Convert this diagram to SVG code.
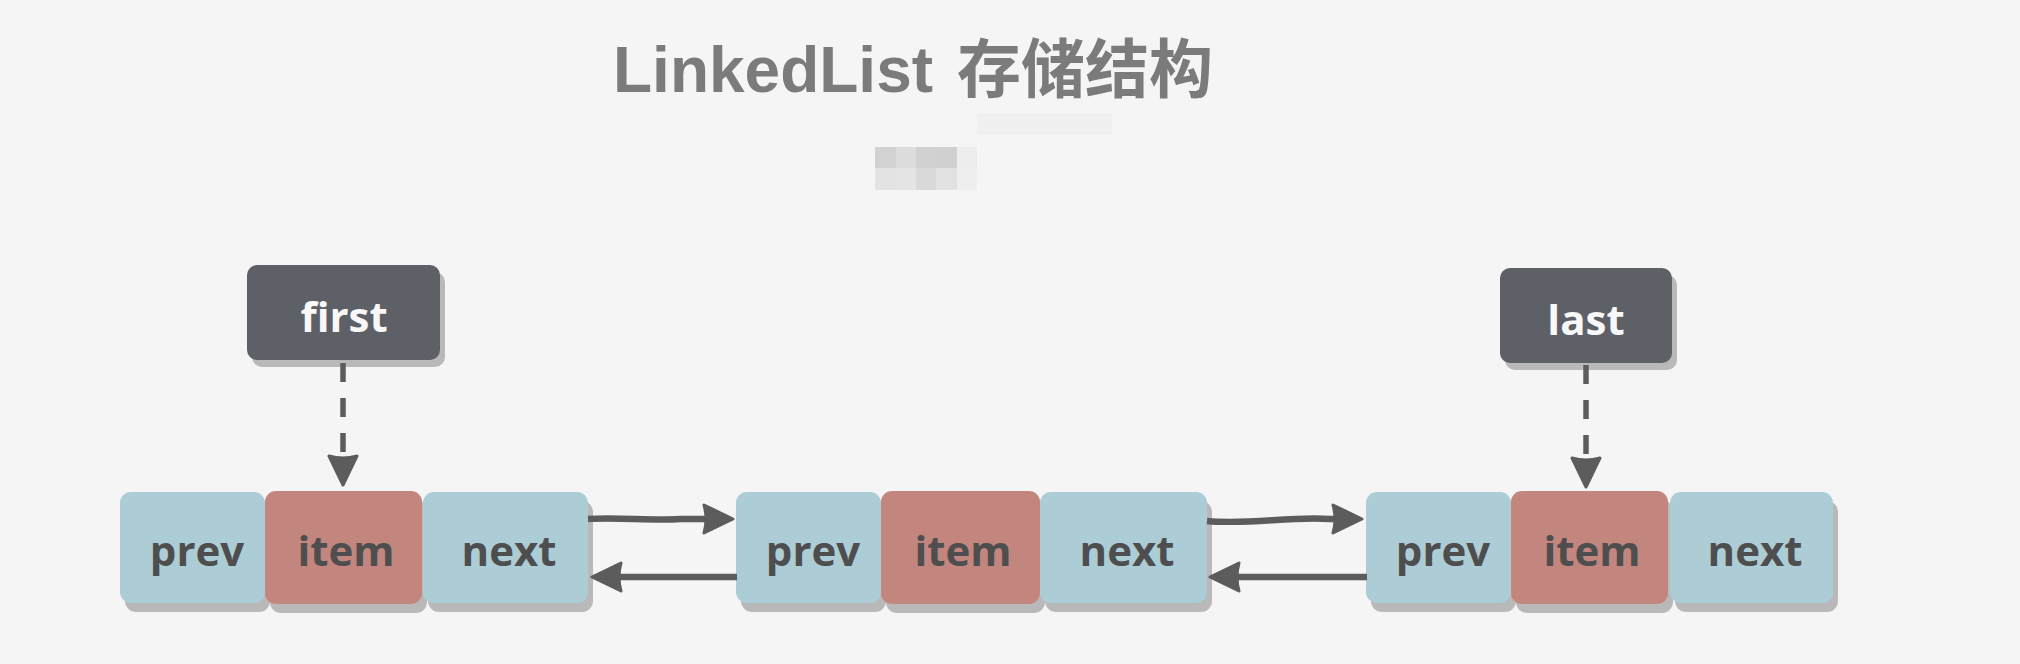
<svg xmlns="http://www.w3.org/2000/svg" width="2020" height="664" viewBox="0 0 2020 664">
<defs>
<style>
.title{font-family:"Liberation Sans","Noto Sans CJK SC",sans-serif;font-weight:700;font-size:64px;fill:#7b7b7b}
.lbl{font-family:"Open Sans","Liberation Sans",sans-serif;font-weight:700;font-size:42px;fill:#4e4e4e;text-anchor:middle}
.hdr{font-family:"Open Sans","Liberation Sans",sans-serif;font-weight:700;font-size:42px;fill:#f8f8f8;text-anchor:middle}
.sh{fill:#b9b9b9}
.blue{fill:#accdd5}
.rose{fill:#c2867f}
.dark{fill:#5e6068}
.line{fill:none;stroke:#5c5c5c;stroke-width:6.5}
.dash{fill:none;stroke:#5c5c5c;stroke-width:5.5;stroke-dasharray:19 16}
</style>
<marker id="ah" viewBox="0 0 34 34" markerWidth="34" markerHeight="34" refX="14" refY="17" orient="auto" markerUnits="userSpaceOnUse">
<path d="M32,17 L3,3 Q7,17 3,31 Z" fill="#5c5c5c" stroke="#5c5c5c" stroke-width="3" stroke-linejoin="round"/>
</marker>
</defs>
<rect width="2020" height="664" fill="#f5f5f5"/>
<g id="title">
<text class="title" x="613" y="92">LinkedList<tspan x="957">存储结构</tspan></text>
</g>
<g id="watermark">
<rect x="977" y="113" width="135" height="22" fill="#f0f0f0"/>
<rect x="875" y="147" width="21" height="21" fill="#d2d2d2"/>
<rect x="896" y="147" width="20" height="21" fill="#dcdcdc"/>
<rect x="916" y="147" width="20" height="21" fill="#d1d1d1"/>
<rect x="936" y="147" width="21" height="21" fill="#d0d0d0"/>
<rect x="957" y="147" width="20" height="21" fill="#ededed"/>
<rect x="875" y="168" width="21" height="22" fill="#e3e3e3"/>
<rect x="896" y="168" width="20" height="22" fill="#e5e5e5"/>
<rect x="916" y="168" width="20" height="22" fill="#dadada"/>
<rect x="936" y="168" width="21" height="22" fill="#e2e2e2"/>
<rect x="957" y="168" width="20" height="22" fill="#eeeeee"/>
</g>
<g id="first">
<rect class="sh" x="252" y="272" width="193" height="95" rx="10"/>
<rect class="dark" x="247" y="265" width="193" height="95" rx="10"/>
<text class="hdr" x="344" y="332">first</text>
</g>
<g id="last">
<rect class="sh" x="1505" y="275" width="172" height="95" rx="10"/>
<rect class="dark" x="1500" y="268" width="172" height="95" rx="10"/>
<text class="hdr" x="1586" y="335">last</text>
</g>
<g id="node1">
<rect class="sh" x="125" y="501" width="145" height="111" rx="11"/>
<rect class="blue" x="120" y="492" width="145" height="111" rx="11"/>
<text class="lbl" x="197" y="566">prev</text>
<rect class="sh" x="270" y="500" width="157" height="113" rx="11"/>
<rect class="rose" x="265" y="491" width="157" height="113" rx="11"/>
<text class="lbl" x="346" y="566">item</text>
<rect class="sh" x="428" y="501" width="165" height="111" rx="11"/>
<rect class="blue" x="423" y="492" width="165" height="111" rx="11"/>
<text class="lbl" x="509" y="566">next</text>
</g>
<g id="node2">
<rect class="sh" x="741" y="501" width="145" height="111" rx="11"/>
<rect class="blue" x="736" y="492" width="145" height="111" rx="11"/>
<text class="lbl" x="813" y="566">prev</text>
<rect class="sh" x="886" y="500" width="159" height="113" rx="11"/>
<rect class="rose" x="881" y="491" width="159" height="113" rx="11"/>
<text class="lbl" x="963" y="566">item</text>
<rect class="sh" x="1045" y="501" width="167" height="111" rx="11"/>
<rect class="blue" x="1040" y="492" width="167" height="111" rx="11"/>
<text class="lbl" x="1127" y="566">next</text>
</g>
<g id="node3">
<rect class="sh" x="1371" y="501" width="145" height="111" rx="11"/>
<rect class="blue" x="1366" y="492" width="145" height="111" rx="11"/>
<text class="lbl" x="1443" y="566">prev</text>
<rect class="sh" x="1516" y="500" width="157" height="113" rx="11"/>
<rect class="rose" x="1511" y="491" width="157" height="113" rx="11"/>
<text class="lbl" x="1592" y="566">item</text>
<rect class="sh" x="1675" y="501" width="163" height="111" rx="11"/>
<rect class="blue" x="1670" y="492" width="163" height="111" rx="11"/>
<text class="lbl" x="1755" y="566">next</text>
</g>
<g id="connectors">
<path class="dash" d="M343,363 L343,467" marker-end="url(#ah)"/>
<path class="dash" d="M1586,365 L1586,469" marker-end="url(#ah)"/>
<path class="line" d="M588,519 C620,517 650,521 680,519 L715,519" marker-end="url(#ah)"/>
<path class="line" d="M737,577 L610,577" marker-end="url(#ah)"/>
<path class="line" d="M1207,521 C1250,525 1290,516 1330,519 L1344,519" marker-end="url(#ah)"/>
<path class="line" d="M1367,577 L1228,577" marker-end="url(#ah)"/>
</g>
</svg>
